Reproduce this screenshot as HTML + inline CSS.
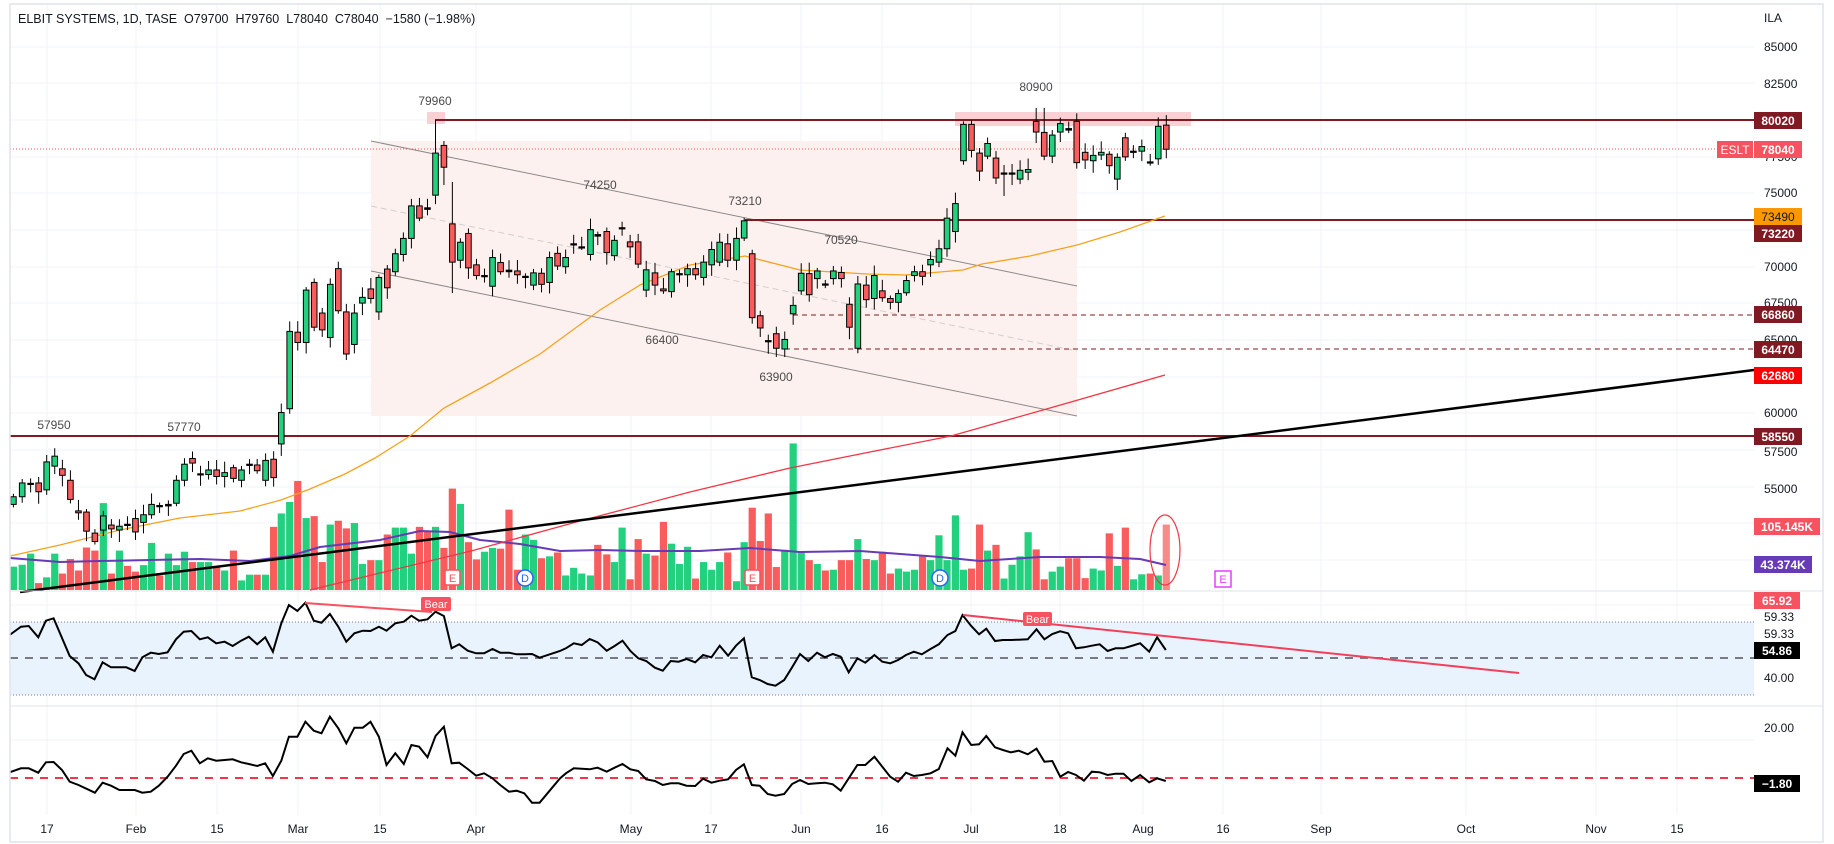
<!DOCTYPE html>
<html><head><meta charset="utf-8">
<style>
html,body{margin:0;padding:0;background:#fff;}
svg{display:block;font-family:"Liberation Sans",sans-serif;}
.ax{font-size:12px;fill:#131722;}
.lb{font-size:12px;fill:#4a4a4a;}
.tl{font-size:12px;font-weight:bold;fill:#fff;}
</style></head><body>
<svg id="c" width="1834" height="844" viewBox="0 0 1834 844" xmlns="http://www.w3.org/2000/svg">
<rect x="0" y="0" width="1834" height="844" fill="#fff"/>
<g id="grid"></g>
<rect x="371" y="141" width="706" height="275" fill="#fdf1ef"/>
<line x1="371" y1="141" x2="1077" y2="286" stroke="#8a8a8a" stroke-width="1"/>
<line x1="371" y1="271" x2="1077" y2="416" stroke="#8a8a8a" stroke-width="1"/>
<line x1="371" y1="206" x2="1077" y2="351" stroke="#cfcfcf" stroke-width="1" stroke-dasharray="6,4"/>
<rect x="427" y="112" width="18" height="12" fill="#f9d0d3"/>
<rect x="955" y="112" width="236" height="14" fill="#f9d0d3"/>
<line x1="435" y1="120" x2="1754" y2="120" stroke="#801922" stroke-width="2"/>
<line x1="745" y1="220" x2="1754" y2="220" stroke="#801922" stroke-width="2"/>
<line x1="10" y1="436" x2="1754" y2="436" stroke="#801922" stroke-width="2"/>
<line x1="793" y1="315" x2="1754" y2="315" stroke="#801922" stroke-width="1" stroke-dasharray="5,4"/>
<line x1="785" y1="349" x2="1754" y2="349" stroke="#801922" stroke-width="1" stroke-dasharray="5,4"/>
<line x1="10" y1="149" x2="1717" y2="149" stroke="#f7525f" stroke-width="1" stroke-dasharray="1,2"/>
<g id="vol"></g>
<polyline id="vma" fill="none" stroke="#673ab7" stroke-width="2" points="10,558 60,562 100,561 150,560 200,559 250,561 290,556 320,547 380,540 420,531 450,532 480,540 520,544 560,551 600,550 640,551 700,551 750,548 800,552 860,551 940,557 980,561 1040,557 1100,557 1140,559 1166,565"/>
<polyline fill="none" stroke="#f7a21b" stroke-width="1.3" points="10,556 60,545 120,530 180,518 240,511 281,500 310,489 345,474 375,458 410,436 444,408 490,383 540,354 600,310 640,285 690,265 745,256 800,270 867,274 905,275 963,270 982,264 1030,256 1077,245 1120,232 1165,216"/>
<polyline fill="none" stroke="#f23645" stroke-width="1.3" points="310,590 380,573 471,551 580,521 690,492 790,468 870,452 951,436 1050,408 1165,375"/>
<line x1="20" y1="592" x2="1754" y2="370" stroke="#000" stroke-width="2.5"/>
<g id="candles"></g>
<g font-size="11" font-family="Liberation Sans,sans-serif">
<rect x="445" y="570" width="15" height="15" rx="2" fill="#fff" stroke="#f7525f" stroke-width="1.5"/><text x="452.5" y="582" text-anchor="middle" fill="#f7525f">E</text>
<rect x="745" y="570" width="15" height="15" rx="2" fill="#fff" stroke="#f7525f" stroke-width="1.5"/><text x="752.5" y="582" text-anchor="middle" fill="#f7525f">E</text>
<circle cx="525" cy="578" r="8" fill="#fff" stroke="#2962ff" stroke-width="1.5"/><text x="525" y="582" text-anchor="middle" fill="#2962ff">D</text>
<circle cx="940" cy="578" r="8" fill="#fff" stroke="#2962ff" stroke-width="1.5"/><text x="940" y="582" text-anchor="middle" fill="#2962ff">D</text>
<rect x="1215" y="571" width="16" height="16" fill="#fff" stroke="#e040fb" stroke-width="1.5"/><text x="1223" y="583" text-anchor="middle" fill="#e040fb">E</text>
</g>
<ellipse cx="1165" cy="550" rx="15" ry="35" fill="none" stroke="#f23645" stroke-width="1.2"/>
<text class="lb" x="435" y="105" text-anchor="middle">79960</text>
<text class="lb" x="54" y="429" text-anchor="middle">57950</text>
<text class="lb" x="184" y="431" text-anchor="middle">57770</text>
<text class="lb" x="600" y="189" text-anchor="middle">74250</text>
<text class="lb" x="745" y="205" text-anchor="middle">73210</text>
<text class="lb" x="841" y="244" text-anchor="middle">70520</text>
<text class="lb" x="662" y="344" text-anchor="middle">66400</text>
<text class="lb" x="776" y="381" text-anchor="middle">63900</text>
<text class="lb" x="1036" y="91" text-anchor="middle">80900</text>
<text x="18" y="23" font-size="12.5" fill="#131722">ELBIT SYSTEMS, 1D, TASE&#160; O79700&#160; H79760&#160; L78040&#160; C78040&#160; −1580 (−1.98%)</text>
<line x1="10" y1="591" x2="1823" y2="591" stroke="#e0e3eb"/>
<line x1="10" y1="706" x2="1823" y2="706" stroke="#e0e3eb"/>
<rect x="10" y="622" width="1744" height="73" fill="#e8f3fd"/>
<line x1="10" y1="622" x2="1754" y2="622" stroke="#787b86" stroke-dasharray="1,2"/>
<line x1="10" y1="695" x2="1754" y2="695" stroke="#787b86" stroke-dasharray="1,2"/>
<line x1="10" y1="658" x2="1754" y2="658" stroke="#787b86" stroke-width="2" stroke-dasharray="8,7"/>
<polyline id="rsi" fill="none" stroke="#000" stroke-width="2"/>
<line x1="305" y1="603" x2="432" y2="612" stroke="#f7525f" stroke-width="2"/>
<rect x="421" y="597" width="30" height="14" rx="2" fill="#f7525f"/><text x="436" y="608" font-size="11" fill="#fff" text-anchor="middle">Bear</text>
<line x1="963" y1="615" x2="1519" y2="673" stroke="#f23f5a" stroke-width="2"/>
<rect x="1023" y="612" width="29" height="14" rx="2" fill="#f7525f"/><text x="1037.5" y="623" font-size="11" fill="#fff" text-anchor="middle">Bear</text>
<line x1="10" y1="778" x2="1754" y2="778" stroke="#f23645" stroke-width="2" stroke-dasharray="8,7"/>
<polyline id="mom" fill="none" stroke="#000" stroke-width="2"/>
<rect x="10" y="4" width="1813" height="838" fill="none" stroke="#e0e3eb" stroke-width="1.5"/>
<g class="ax">
<text x="1764" y="22">ILA</text>
<text x="1764" y="51">85000</text>
<text x="1764" y="88">82500</text>
<text x="1764" y="161">77500</text>
<text x="1764" y="197">75000</text>
<text x="1764" y="271">70000</text>
<text x="1764" y="307">67500</text>
<text x="1764" y="344">65000</text>
<text x="1764" y="417">60000</text>
<text x="1764" y="456">57500</text>
<text x="1764" y="493">55000</text>
<text x="1764" y="621">59.33</text>
<text x="1764" y="638">59.33</text>
<text x="1764" y="682">40.00</text>
<text x="1764" y="732">20.00</text>
</g>
<g>
<rect x="1754" y="112" width="48" height="17" fill="#801922"/><text class="tl" x="1778" y="125" text-anchor="middle">80020</text>
<rect x="1717" y="141" width="36" height="17" fill="#f7525f"/><text class="tl" x="1735" y="154" text-anchor="middle" style="font-weight:normal">ESLT</text>
<rect x="1754" y="141" width="48" height="17" fill="#f7525f"/><text class="tl" x="1778" y="154" text-anchor="middle">78040</text>
<rect x="1754" y="208" width="48" height="17" fill="#ff9800"/><text class="tl" x="1778" y="221" text-anchor="middle" style="fill:#131722;font-weight:normal">73490</text>
<rect x="1754" y="225" width="48" height="17" fill="#801922"/><text class="tl" x="1778" y="238" text-anchor="middle">73220</text>
<rect x="1754" y="306" width="48" height="17" fill="#801922"/><text class="tl" x="1778" y="319" text-anchor="middle">66860</text>
<rect x="1754" y="341" width="48" height="17" fill="#801922"/><text class="tl" x="1778" y="354" text-anchor="middle">64470</text>
<rect x="1754" y="367" width="48" height="17" fill="#ff0000"/><text class="tl" x="1778" y="380" text-anchor="middle">62680</text>
<rect x="1754" y="428" width="48" height="17" fill="#801922"/><text class="tl" x="1778" y="441" text-anchor="middle">58550</text>
<rect x="1754" y="518" width="66" height="17" fill="#f7525f"/><text class="tl" x="1787" y="531" text-anchor="middle">105.145K</text>
<rect x="1754" y="556" width="58" height="17" fill="#673ab7"/><text class="tl" x="1783" y="569" text-anchor="middle">43.374K</text>
<rect x="1754" y="592" width="46" height="17" fill="#f7525f"/><text class="tl" x="1777" y="605" text-anchor="middle">65.92</text>
<rect x="1754" y="642" width="46" height="17" fill="#000"/><text class="tl" x="1777" y="655" text-anchor="middle">54.86</text>
<rect x="1754" y="775" width="46" height="17" fill="#000"/><text class="tl" x="1777" y="788" text-anchor="middle">−1.80</text>
</g>
<g class="ax" text-anchor="middle">
<text x="47" y="833">17</text><text x="136" y="833">Feb</text><text x="217" y="833">15</text>
<text x="298" y="833">Mar</text><text x="380" y="833">15</text><text x="476" y="833">Apr</text>
<text x="631" y="833">May</text><text x="711" y="833">17</text><text x="801" y="833">Jun</text>
<text x="882" y="833">16</text><text x="971" y="833">Jul</text><text x="1060" y="833">18</text>
<text x="1143" y="833">Aug</text><text x="1223" y="833">16</text><text x="1321" y="833">Sep</text>
<text x="1466" y="833">Oct</text><text x="1596" y="833">Nov</text><text x="1677" y="833">15</text>
</g>
</svg>
<script>
(function(){
var NS="http://www.w3.org/2000/svg";
function el(p,t,a){var e=document.createElementNS(NS,t);for(var k in a)e.setAttribute(k,a[k]);p.appendChild(e);return e;}
var g=document.getElementById('grid');
[47,83,120,157,193,230,267,303,340,377,413,450,487,523,560].forEach(function(y){el(g,'line',{x1:10,x2:1754,y1:y,y2:y,stroke:'#f0f3fa'});});
[605,640,740].forEach(function(y){el(g,'line',{x1:10,x2:1754,y1:y,y2:y,stroke:'#f0f3fa'});});
[47,136,217,298,380,476,631,711,801,882,971,1060,1143,1223,1321,1466,1596,1677].forEach(function(x){el(g,'line',{x1:x,x2:x,y1:4,y2:815,stroke:'#f0f3fa'});});
var S=2.613;
var z5=[[35,1318,1298,1482],[58,1298,1262,1477],[80,1263,1263,1448],[101,1262,1285,1525],[122,1280,1207,1510],[143,1218,1192,1448],[163,1225,1242,1500],[184,1255,1305,1462],[205,1335,1340,1492],[226,1338,1388,1432],[248,1393,1415,1440],[270,1385,1348,1316],[291,1372,1382,1500],[312,1385,1375,1440],[333,1370,1372,1480],[354,1355,1390,1495],[375,1365,1345,1478],[396,1345,1318,1420],[417,1321,1322,1505],[440,1322,1318,1448],[461,1315,1255,1478],[482,1255,1213,1443],[503,1198,1210,1470],[524,1238,1238,1470],[545,1240,1228,1470],[566,1228,1245,1480],[587,1245,1235,1492],[610,1222,1250,1440],[631,1255,1228,1518],[652,1213,1213,1503],[672,1215,1230,1503],[694,1255,1203,1503],[715,1200,1248,1378],[735,1160,1078,1343],[757,1068,866,1313],[778,868,895,1258],[800,895,758,1355],[821,738,855,1350],[842,818,862,1470],[863,882,743,1372],[884,702,812,1362],[905,815,925,1382],[926,900,818,1368],[947,792,777,1475],[969,755,780,1465],[990,815,725,1465],[1012,703,752,1398],[1033,710,663,1380],[1054,665,623,1380],[1075,623,538,1448],[1096,538,570,1378],[1117,543,547,1390],[1138,510,400,1378],[1160,380,437,1433],[1182,585,685,1278],[1203,680,633,1318],[1224,610,700,1418],[1245,692,720,1463],[1266,720,720,1443],[1287,748,673,1433],[1308,686,710,1435],[1330,706,710,1333],[1352,708,718,1490],[1373,722,722,1398],[1394,745,713,1412],[1415,714,743,1460],[1436,738,673,1455],[1457,662,695,1445],[1478,697,673,1505],[1499,637,637,1485],[1520,645,645,1500],[1543,665,600,1505],[1562,613,617,1425]];
var z6=[[70,605,660,1450],[90,668,628,1470],[110,595,595,1380],[131,632,645,1515],[152,632,690,1410],[173,758,705,1448],[196,713,745,1453],[218,755,760,1365],[239,762,710,1422],[260,715,715,1475],[281,718,702,1430],[302,702,718,1513],[323,725,685,1470],[344,692,652,1490],[365,685,633,1470],[386,637,680,1445],[409,680,623,1520],[429,622,577,1418],[450,663,830,1328],[471,825,857,1415],[492,890,893,1343],[513,872,910,1483],[535,912,887,1438],[557,820,798,1160],[578,760,714,1445],[599,715,770,1465],[620,728,708,1475],[641,742,745,1492],[662,728,708,1490],[683,712,728,1465],[704,795,855,1465],[726,910,742,1410],[748,745,783,1462],[769,780,720,1465],[790,760,778,1443],[811,780,790,1500],[832,790,767,1487],[853,765,733,1495],[874,720,710,1490],[895,710,722,1455],[916,692,678,1465],[938,685,650,1400],[959,650,570,1465],[981,605,532,1348],[1002,420,325,1490],[1023,325,393,1487],[1044,400,447,1372],[1065,408,375,1440],[1087,413,465,1425],[1108,452,452,1513],[1129,452,452,1477],[1150,468,445,1455],[1171,450,443,1392],[1192,317,345,1437],[1213,346,408,1515],[1234,408,353,1495],[1255,345,323,1482],[1277,336,340,1460],[1298,317,425,1460],[1320,398,418,1512],[1341,420,406,1487],[1362,405,398,1492],[1383,403,433,1395],[1404,468,411,1480],[1425,360,410,1380],[1446,395,395,1515],[1468,395,383,1502],[1490,423,425,1500],[1511,415,330,1505],[1532,327,390,1372]];
var data=[];
z5.forEach(function(d){data.push([d[0]/S,d[1]/S,d[2]/S,(1543-d[3])/S]);});
z6.forEach(function(d){data.push([580+d[0]/S,d[1]/S,d[2]/S,(1543-d[3])/S]);});
var cg=document.getElementById('candles'),vg=document.getElementById('vol');
var G='#22d07e',R='#f85c5c';
var ov={52:[120,null],53:[141,185],54:[182,293],94:[null,357],95:[null,357]};
data.forEach(function(d,i){
 var x=d[0],o=d[1],c=d[2];var up=c<=o;
 var top=Math.min(o,c),bot=Math.max(o,c);
 var w1=3+((i*37)%9),w2=3+((i*53)%10);
 var hi=top-w1,lo=bot+w2;
 if(x>1030&&x<1045){hi=108;}
 if(x>1000&&x<1010){lo=196;}
 if(ov[i]){if(ov[i][0]!=null)hi=ov[i][0];if(ov[i][1]!=null)lo=ov[i][1];}
 var vc=up?G:R; if(i==data.length-1)vc='#f98a8a';
 el(vg,'rect',{x:x-3.6,y:590-d[3],width:7.2,height:d[3],fill:vc});
 el(cg,'line',{x1:x,x2:x,y1:hi,y2:lo,stroke:'#000','stroke-width':1});
 var h=Math.max(bot-top,1.2);
 el(cg,'rect',{x:x-2.8,y:top,width:5.6,height:h,fill:(h<1.6?'#000':(up?G:R)),stroke:'#000','stroke-width':1});
});
var r4=[[25,105],[55,80],[75,78],[100,112],[120,62],[140,55],[182,168],[205,190],[225,225],[247,238],[268,187],[290,202],[330,202],[352,213],[372,172],[394,158],[415,162],[438,157],[460,118],[480,95],[500,93],[522,118],[543,112],[565,130],[587,125],[608,138],[630,122],[650,110],[672,133],[693,112],[713,155],[735,70],[755,15],[777,33],[798,8],[820,62],[840,68],[862,42],[884,80],[905,125],[926,100],[948,92],[968,93],[990,80],[1010,92],[1033,70],[1055,65],[1075,47],[1095,62],[1117,58],[1138,35],[1160,48],[1180,145],[1200,133],[1222,152],[1244,160],[1265,160],[1287,147],[1307,158],[1330,158],[1350,163],[1370,163],[1390,162],[1410,173]];
var r9=[[0,183],[15,175],[35,160],[55,165],[75,147],[95,157],[118,182],[138,168],[158,152],[178,183],[198,205],[218,213],[240,233],[260,242],[280,213],[300,215],[320,207],[342,217],[362,195],[383,202],[404,167],[425,197],[445,167],[465,145],[485,262],[505,270],[525,282],[545,287],[567,270],[587,232],[607,192],[628,213],[650,188],[670,202],[690,192],[710,200],[730,247],[752,205],[772,218],[795,195],[815,215],[835,220],[855,210],[875,195],[895,185],[915,193],[937,177],[958,163],[980,135],[1000,123],[1018,75],[1040,108],[1060,133],[1078,116],[1100,153],[1120,150],[1140,150],[1160,149],[1183,148],[1205,118],[1225,148],[1245,132],[1265,124],[1285,130],[1305,175],[1325,172],[1345,167],[1365,163],[1385,183],[1405,175],[1425,175],[1445,168],[1467,160],[1490,185],[1510,142],[1532,180]];
var m4=[[25,517],[55,505],[75,505],[100,518],[120,487],[140,486],[162,510],[182,545],[205,555],[248,578],[268,548],[290,557],[312,570],[352,570],[372,578],[394,575],[415,557],[438,530],[460,497],[480,462],[500,452],[522,490],[543,475],[565,482],[587,480],[608,478],[630,487],[650,492],[672,498],[693,490],[713,528],[735,482],[755,410],[777,410],[798,365],[820,392],[840,400],[862,350],[884,385],[905,430],[926,383],[948,383],[968,365],[990,410],[1010,495],[1033,460],[1055,492],[1075,435],[1095,440],[1117,472],[1138,408],[1160,380],[1180,490],[1200,488],[1222,507],[1244,527],[1265,520],[1287,535],[1307,555],[1330,575],[1350,572],[1370,580],[1390,608],[1410,608]];
var m9=[[0,565],[15,550],[35,535],[75,538],[95,533],[118,545],[138,533],[158,522],[178,538],[198,543],[218,568],[240,573],[260,585],[280,580],[300,580],[320,587],[342,588],[362,566],[383,578],[404,572],[425,568],[445,540],[465,523],[485,585],[505,587],[525,612],[545,617],[567,612],[587,582],[607,570],[628,582],[650,580],[670,578],[690,583],[710,602],[730,565],[752,525],[772,525],[795,500],[815,530],[835,560],[855,575],[875,548],[895,558],[915,555],[937,550],[958,537],[980,475],[1000,497],[1018,427],[1040,465],[1060,463],[1078,438],[1100,472],[1120,480],[1140,487],[1160,482],[1183,493],[1205,476],[1225,515],[1245,513],[1265,560],[1285,546],[1305,555],[1325,572],[1345,545],[1365,547],[1385,555],[1405,551],[1425,551],[1445,573],[1467,555],[1490,577],[1510,565],[1532,573]];
function pts(a,b){var s=[];a.forEach(function(p){s.push((p[0]/2.613).toFixed(1)+','+(600+p[1]/3).toFixed(1));});b.forEach(function(p){s.push((560+p[0]/2.529).toFixed(1)+','+(590+p[1]/3).toFixed(1));});return s.join(' ');}
document.getElementById('rsi').setAttribute('points',pts(r4,r9));
document.getElementById('mom').setAttribute('points',pts(m4,m9));
})();
</script>
</body></html>
